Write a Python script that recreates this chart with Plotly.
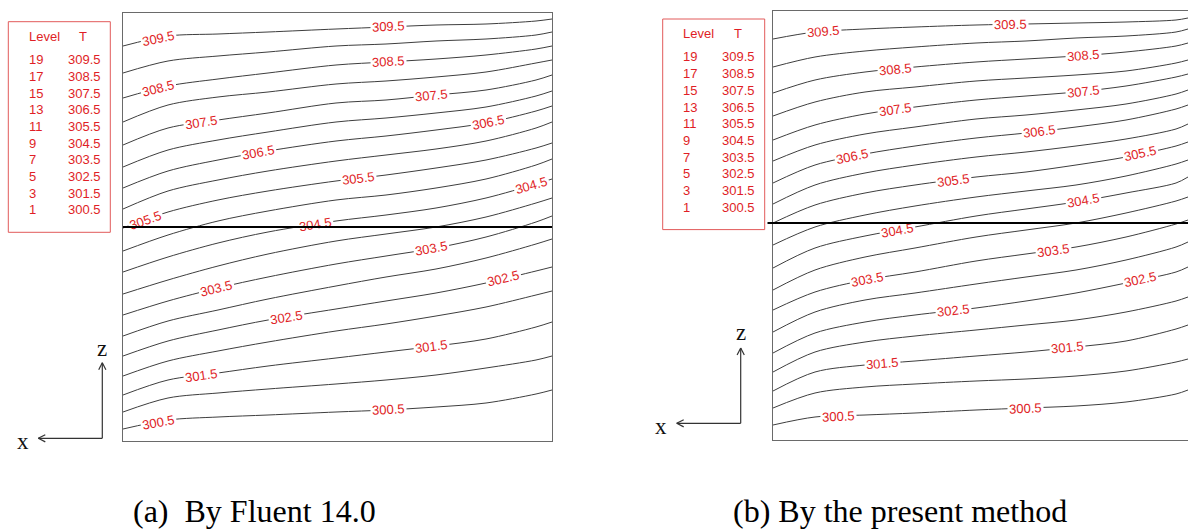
import math
import numpy as np
import plotly.graph_objects as go

# ---------------- data ----------------
# contour levels (temperature, K), listed bottom -> top
LEVEL_T = [300.5, 301.0, 301.5, 302.0, 302.5, 303.0, 303.5, 304.0, 304.5, 305.0,
           305.5, 306.0, 306.5, 307.0, 307.5, 308.0, 308.5, 309.0, 309.5]

# panel (a): Fluent 14.0 -- x positions and contour heights z (one row per level)
A_X = [0, 45, 95, 145, 213, 263, 313, 363, 413, 429]
A_Z = [
    [12, 21, 24, 26, 29, 31, 34, 38, 47, 51],
    [29, 43, 48, 52, 57, 61, 66, 73, 81, 85],
    [46, 61, 68, 75, 83, 89, 95, 102, 114, 119],
    [65, 80, 90, 99, 110, 117, 125, 134, 146, 150],
    [85, 100, 111, 121, 132, 140, 148, 158, 170, 174],
    [105, 120, 131, 142, 155, 164, 172, 183, 197, 202],
    [126, 140, 153, 164, 177, 185, 193, 204, 219, 225],
    [147, 161, 175, 187, 200, 207, 214, 224, 238, 243],
    [169, 184, 198, 209, 220, 226, 233, 243, 257, 262],
    [190, 206, 220, 230, 241, 246, 253, 262, 276, 282],
    [213, 229, 241, 250, 260, 266, 273, 281, 293, 298],
    [232, 250, 261, 270, 280, 286, 292, 300, 313, 319],
    [253, 270, 281, 290, 300, 305, 311, 318, 330, 335],
    [274, 291, 301, 309, 319, 323, 328, 334, 345, 350],
    [296, 313, 321, 328, 338, 341, 346, 351, 361, 366],
    [319, 336, 344, 349, 357, 360, 364, 369, 378, 381],
    [343, 355, 362, 368, 376, 379, 382, 386, 392, 395],
    [368, 380, 385, 389, 395, 397, 400, 402, 406, 409],
    [395, 405, 407, 409, 412, 414, 416, 417, 420, 422],
]
A_LAB_T = [309.5, 308.5, 307.5, 306.5, 305.5, 304.5, 303.5, 302.5, 301.5, 300.5]
A_LAB_X1 = [35, 35, 78, 135, 22, 192, 93, 163, 78, 35]
A_LAB_X2 = [265, 265, 308, 365, 235, 408, 308, 380, 308, 265]
A_INTERFACE_Z = 214

# panel (b): present method
B_X = [0, 42, 92, 142, 203, 253, 303, 353, 403, 415]
B_Z = [
    [15, 23, 25, 27, 30, 32, 34, 38, 46, 50],
    [32, 47, 53, 56, 59, 61, 64, 69, 78, 81],
    [49, 68, 75, 79, 84, 88, 93, 99, 111, 115],
    [68, 88, 98, 104, 110, 115, 120, 128, 139, 143],
    [87, 107, 118, 125, 132, 139, 147, 157, 168, 173],
    [108, 128, 140, 147, 156, 163, 170, 180, 193, 198],
    [130, 148, 160, 168, 179, 186, 193, 203, 216, 220],
    [150, 170, 183, 192, 203, 210, 217, 227, 239, 243],
    [172, 192, 204, 213, 224, 231, 238, 247, 257, 263],
    [195, 213, 225, 234, 243, 249, 255, 264, 276, 280],
    [217, 235, 247, 255, 263, 268, 275, 283, 294, 298],
    [236, 255, 267, 275, 283, 288, 294, 301, 311, 316],
    [257, 275, 286, 294, 302, 307, 313, 320, 331, 335],
    [279, 295, 306, 313, 321, 325, 330, 336, 346, 350],
    [300, 315, 326, 333, 340, 344, 348, 354, 363, 366],
    [324, 338, 348, 353, 359, 362, 365, 369, 377, 380],
    [347, 360, 368, 373, 378, 381, 384, 388, 394, 397],
    [373, 383, 389, 393, 397, 399, 402, 404, 408, 411],
    [401, 408, 411, 413, 415, 416, 417, 418, 420, 422],
]
B_LAB_T = [309.5, 308.5, 307.5, 306.5, 305.5, 304.5, 303.5, 302.5, 301.5, 300.5]
B_LAB_X1 = [50, 122, 122, 79, 180, 124, 94, 180, 109, 65]
B_LAB_X2 = [237, 310, 310, 266, 367, 310, 280, 367, 294, 252]
B_INTERFACE_Z = 217

# legend table
LEG_LEVEL = ["19", "17", "15", "13", "11", "9", "7", "5", "3", "1"]
LEG_T = ["309.5", "308.5", "307.5", "306.5", "305.5", "304.5", "303.5", "302.5", "301.5", "300.5"]

CAPTION_A = "(a)\u00a0 By Fluent 14.0"
CAPTION_B = "(b) By the present method"

# ---------------- styling ----------------
W, H = 1188, 532
RED = "rgb(224,30,38)"
LINE = "#3e3e3e"
BOX = "#6a6a6a"
SANS = "Arial, Liberation Sans, sans-serif"
SERIF = "Times New Roman, Liberation Serif, serif"


def px(x):
    return x / W


def py(y):
    return 1 - y / H


fig = go.Figure()
annotations = []
shapes = []

panels = [
    dict(xs=A_X, zs=A_Z, lt=A_LAB_T, lx=[A_LAB_X1, A_LAB_X2], xa="x", ya="y",
         iz=A_INTERFACE_Z, ext=-1.5, xend=429),
    dict(xs=B_X, zs=B_Z, lt=B_LAB_T, lx=[B_LAB_X1, B_LAB_X2], xa="x2", ya="y2",
         iz=B_INTERFACE_Z, ext=-7, xend=415),
]

for p in panels:
    for t, row in zip(LEVEL_T, p["zs"]):
        fig.add_trace(go.Scatter(
            x=p["xs"], y=row, mode="lines", name=f"{t}",
            line=dict(color=LINE, width=1, shape="spline", smoothing=0.9),
            xaxis=p["xa"], yaxis=p["ya"], hoverinfo="skip", showlegend=False))
    # contour labels
    for xs_list in p["lx"]:
        for t, lx in zip(p["lt"], xs_list):
            row = p["zs"][LEVEL_T.index(t)]
            z = float(np.interp(lx, p["xs"], row))
            z1 = float(np.interp(lx - 12, p["xs"], row))
            z2 = float(np.interp(lx + 12, p["xs"], row))
            ang = -math.degrees(math.atan2(z2 - z1, 24))
            annotations.append(dict(
                x=lx, y=z, xref=p["xa"], yref=p["ya"], text=f"{t:.1f}",
                showarrow=False, textangle=ang, bgcolor="white", borderpad=1,
                font=dict(family=SANS, size=13, color=RED),
                xanchor="center", yanchor="middle"))
    # interface line (drawn as an arrow-less annotation so it lies above labels)
    annotations.append(dict(
        x=p["xend"], y=p["iz"], xref=p["xa"], yref=p["ya"],
        ax=p["ext"], ay=p["iz"], axref=p["xa"], ayref=p["ya"],
        text="", showarrow=True, arrowhead=0, arrowwidth=2, arrowcolor="black",
        standoff=0, startstandoff=0))

# legend tables
for (bx0, by0) in [(8.3, 21.7), (662.7, 19.0)]:
    shapes.append(dict(type="rect", xref="paper", yref="paper",
                       x0=px(bx0), x1=px(bx0 + 102), y0=py(by0), y1=py(by0 + 210.6),
                       line=dict(color="rgb(226,90,90)", width=1)))
    annotations.append(dict(x=px(bx0 + 18.5), y=py(by0 + 14.5), xref="paper", yref="paper",
                            text="Level", showarrow=False, xanchor="left", yanchor="middle",
                            font=dict(family=SANS, size=13, color=RED)))
    annotations.append(dict(x=px(bx0 + 75), y=py(by0 + 14.5), xref="paper", yref="paper",
                            text="T", showarrow=False, xanchor="center", yanchor="middle",
                            font=dict(family=SANS, size=13, color=RED)))
    for i, (lv, tv) in enumerate(zip(LEG_LEVEL, LEG_T)):
        yy = by0 + 38 + i * 16.67
        annotations.append(dict(x=px(bx0 + 18.5), y=py(yy), xref="paper", yref="paper",
                                text=lv, showarrow=False, xanchor="left", yanchor="middle",
                                font=dict(family=SANS, size=13, color=RED)))
        annotations.append(dict(x=px(bx0 + 57.5), y=py(yy), xref="paper", yref="paper",
                                text=tv, showarrow=False, xanchor="left", yanchor="middle",
                                font=dict(family=SANS, size=13, color=RED)))

# coordinate indicators (x <-- , z ^)
for (ox, oy, tipz, tipx, zlab, xlab) in [
        (102.3, 438.3, 362.7, 38.3, (102.3, 348), (22.7, 441.5)),
        (740.7, 423.3, 348.0, 676.7, (740.7, 332), (661.0, 426.5))]:
    seg = [((ox, oy), (ox, tipz)), ((ox, oy), (tipx, oy)),
           ((ox, tipz), (ox - 3.6, tipz + 7)), ((ox, tipz), (ox + 3.6, tipz + 7)),
           ((tipx, oy), (tipx + 7, oy - 3.6)), ((tipx, oy), (tipx + 7, oy + 3.6))]
    for (a, b) in seg:
        shapes.append(dict(type="line", xref="paper", yref="paper",
                           x0=px(a[0]), y0=py(a[1]), x1=px(b[0]), y1=py(b[1]),
                           line=dict(color="#333333", width=1.2)))
    annotations.append(dict(x=px(zlab[0]), y=py(zlab[1]), xref="paper", yref="paper",
                            text="z", showarrow=False, xanchor="center", yanchor="middle",
                            font=dict(family=SERIF, size=23, color="#111")))
    annotations.append(dict(x=px(xlab[0]), y=py(xlab[1]), xref="paper", yref="paper",
                            text="x", showarrow=False, xanchor="center", yanchor="middle",
                            font=dict(family=SERIF, size=23, color="#111")))

# captions
for txt, x0 in [(CAPTION_A, 131), (CAPTION_B, 731)]:
    annotations.append(dict(x=px(x0), y=py(511), xref="paper", yref="paper", text=txt,
                            showarrow=False, xanchor="left", yanchor="middle",
                            font=dict(family=SERIF, size=32, color="#000")))

axis_common = dict(showticklabels=False, ticks="", showgrid=False, zeroline=False,
                   showline=True, linecolor=BOX, linewidth=1, fixedrange=True)

fig.update_layout(
    width=W, height=H, autosize=False,
    margin=dict(l=0, r=0, t=0, b=0),
    paper_bgcolor="white", plot_bgcolor="white",
    showlegend=False,
    xaxis=dict(domain=[px(123), px(552)], range=[0, 429], anchor="y", mirror=True, **axis_common),
    yaxis=dict(domain=[py(441), py(13)], range=[0, 428], anchor="x", mirror=True, **axis_common),
    xaxis2=dict(domain=[px(773), 1.0], range=[0, 415], anchor="y2", mirror=True, **axis_common),
    yaxis2=dict(domain=[py(440), py(11)], range=[0, 429], anchor="x2", mirror=False, **axis_common),
    annotations=annotations,
    shapes=shapes,
)

fig.write_html(
    "out.html",
    config={"displayModeBar": False},
    post_script="document.body.style.margin='0';document.body.style.overflow='hidden';",
)
